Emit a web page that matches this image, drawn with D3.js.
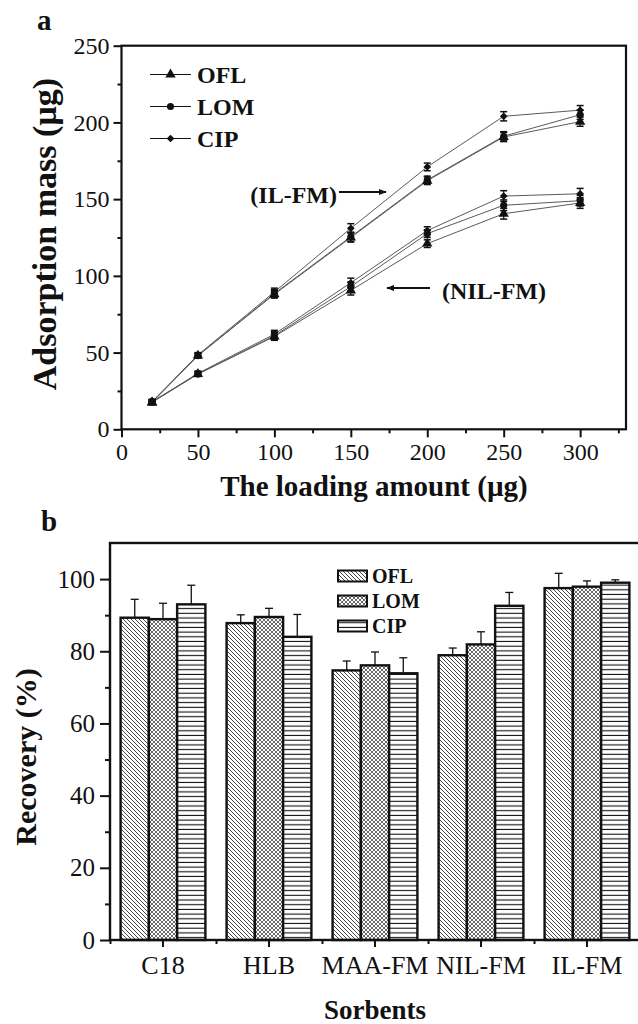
<!DOCTYPE html>
<html>
<head>
<meta charset="utf-8">
<script src="https://cdn.jsdelivr.net/npm/d3@7"></script>
<style>
  body { margin: 0; background: #fff; }
  svg text { font-family: "Liberation Serif", "Times New Roman", serif; fill: #111; }
</style>
</head>
<body>
<svg id="chart"></svg>
<script>
// ---- panel a : adsorption mass vs loading amount ----
const loading = [20, 50, 100, 150, 200, 250, 300]
const drugs = ['OFL', 'LOM', 'CIP']
const ilOFL = [17.5, 48, 88, 125, 162, 190.5, 200.5]
const ilLOM = [18, 48, 88.5, 125.5, 162.5, 191, 205]
const ilCIP = [17.8, 48.5, 89.5, 131, 171, 204, 208]
const nilOFL = [17.5, 36, 60.5, 90.5, 121, 140.5, 147.5]
const nilLOM = [18, 36, 61, 93, 127.5, 146, 149]
const nilCIP = [17.8, 36.5, 62, 95.5, 129.5, 152, 153.5]
const ilErr = [1.5, 1.5, 2.5, 3, 2.5, 3, 3]
const nilErr = [1.2, 1.5, 2.5, 3, 2.5, 3.5, 3.5]
const aTicksX = [0, 50, 100, 150, 200, 250, 300]
const aMinorX = [25, 75, 125, 175, 225, 275, 325]
const aTicksY = [0, 50, 100, 150, 200, 250]
const aMinorY = [25, 75, 125, 175, 225]

// ---- panel b : recovery per sorbent ----
const sorbents = ['C18', 'HLB', 'MAA-FM', 'NIL-FM', 'IL-FM']
const recOFL = [89.3, 87.8, 74.7, 78.9, 97.5]
const recLOM = [88.9, 89.5, 76.1, 81.9, 97.9]
const recCIP = [93.0, 84.0, 73.9, 92.6, 99.0]
const errOFL = [5.1, 2.3, 2.6, 2.0, 4.1]
const errLOM = [4.4, 2.4, 3.7, 3.5, 1.6]
const errCIP = [5.3, 6.2, 4.3, 3.7, 0.8]
const bTicksY = [0, 20, 40, 60, 80, 100]
const bMinorY = [10, 30, 50, 70, 90]

const svg = d3.select('#chart').attr('width', 638).attr('height', 1024)

function styleAxis(sel, fontSize) {
  sel.select('.domain').remove()
  sel.selectAll('.tick line').attr('stroke', '#111').attr('stroke-width', 2)
  sel.selectAll('.tick text').style('font-size', fontSize + 'px').attr('fill', '#111')
}

// patterns for the bars
const defs = svg.append('defs')
const pOFL = defs.append('pattern').attr('id', 'pat-OFL')
  .attr('patternUnits', 'userSpaceOnUse').attr('width', 4).attr('height', 4)
pOFL.append('rect').attr('width', 4).attr('height', 4).attr('fill', '#fff')
pOFL.append('path').attr('d', 'M-1,-1 L5,5 M-1,3 L1,5 M3,-1 L5,1')
  .attr('stroke', '#333').attr('stroke-width', 0.9)

const pLOM = defs.append('pattern').attr('id', 'pat-LOM')
  .attr('patternUnits', 'userSpaceOnUse').attr('width', 4).attr('height', 4)
pLOM.append('rect').attr('width', 4).attr('height', 4).attr('fill', '#fff')
pLOM.append('path').attr('d', 'M-1,-1 L5,5 M-1,3 L1,5 M3,-1 L5,1 M-1,5 L5,-1 M-1,1 L1,-1 M3,5 L5,3')
  .attr('stroke', '#444').attr('stroke-width', 0.8)

const pCIP = defs.append('pattern').attr('id', 'pat-CIP')
  .attr('patternUnits', 'userSpaceOnUse').attr('width', 6).attr('height', 4.7)
pCIP.append('rect').attr('width', 6).attr('height', 4.7).attr('fill', '#fff')
pCIP.append('line').attr('x1', 0).attr('x2', 6).attr('y1', 2.3).attr('y2', 2.3)
  .attr('stroke', '#111').attr('stroke-width', 1.1)

// =================== panel a ===================
const xA = d3.scaleLinear().domain([0, 330]).range([121.5, 626])
const yA = d3.scaleLinear().domain([0, 250]).range([429.3, 45.7])
const gA = svg.append('g')

gA.append('g').attr('transform', `translate(0,${yA(0)})`)
  .call(d3.axisBottom(xA).tickValues(aTicksX).tickSize(8).tickPadding(6).tickSizeOuter(0))
  .call(s => styleAxis(s, 24))
gA.append('g').attr('transform', `translate(0,${yA(0)})`)
  .call(d3.axisBottom(xA).tickValues(aMinorX).tickSize(4).tickFormat('').tickSizeOuter(0))
  .call(s => styleAxis(s, 24))
gA.append('g').attr('transform', `translate(${xA(0)},0)`)
  .call(d3.axisLeft(yA).tickValues(aTicksY).tickSize(8).tickPadding(4).tickSizeOuter(0))
  .call(s => styleAxis(s, 24))
gA.append('g').attr('transform', `translate(${xA(0)},0)`)
  .call(d3.axisLeft(yA).tickValues(aMinorY).tickSize(4).tickFormat('').tickSizeOuter(0))
  .call(s => styleAxis(s, 24))

gA.append('rect')
  .attr('x', xA(0)).attr('y', yA(250))
  .attr('width', xA(330) - xA(0)).attr('height', yA(0) - yA(250))
  .attr('fill', 'none').attr('stroke', '#111').attr('stroke-width', 2.2)

const symbolOf = {
  OFL: d3.symbol().type(d3.symbolTriangle).size(46)(),
  LOM: d3.symbol().type(d3.symbolCircle).size(40)(),
  CIP: d3.symbol().type(d3.symbolSquare).size(30)()
}
const rotOf = { OFL: 0, LOM: 0, CIP: 45 }

const seriesA = [
  { name: 'OFL', values: ilOFL, err: ilErr },
  { name: 'LOM', values: ilLOM, err: ilErr },
  { name: 'CIP', values: ilCIP, err: ilErr },
  { name: 'OFL', values: nilOFL, err: nilErr },
  { name: 'LOM', values: nilLOM, err: nilErr },
  { name: 'CIP', values: nilCIP, err: nilErr }
]

const line = d3.line().x((d, i) => xA(loading[i])).y(d => yA(d))

seriesA.forEach(s => {
  gA.append('path').attr('d', line(s.values))
    .attr('fill', 'none').attr('stroke', '#5a5a5a').attr('stroke-width', 1)
})

seriesA.forEach(s => {
  s.values.forEach((v, i) => {
    const cx = xA(loading[i])
    const top = yA(v + s.err[i]), bot = yA(v - s.err[i])
    gA.append('line').attr('x1', cx).attr('x2', cx).attr('y1', top).attr('y2', bot)
      .attr('stroke', '#111').attr('stroke-width', 1.2)
    ;[top, bot].forEach(yy => {
      gA.append('line').attr('x1', cx - 3.5).attr('x2', cx + 3.5).attr('y1', yy).attr('y2', yy)
        .attr('stroke', '#111').attr('stroke-width', 1.5)
    })
  })
})

seriesA.forEach(s => {
  s.values.forEach((v, i) => {
    gA.append('path').attr('d', symbolOf[s.name])
      .attr('transform', `translate(${xA(loading[i])},${yA(v)}) rotate(${rotOf[s.name]})`)
      .attr('fill', '#111')
  })
})

// legend panel a
drugs.forEach((d, i) => {
  const yy = 74.5 + i * 32
  gA.append('line').attr('x1', 150).attr('x2', 191).attr('y1', yy).attr('y2', yy)
    .attr('stroke', '#111').attr('stroke-width', 1.2)
  gA.append('path').attr('d', symbolOf[d])
    .attr('transform', `translate(170.5,${yy}) rotate(${rotOf[d]})`).attr('fill', '#111')
  gA.append('text').attr('x', 197).attr('y', yy + 8.5)
    .style('font-size', '24px').style('font-weight', 'bold').text(d)
})

// annotations
defs.append('marker').attr('id', 'arrow').attr('viewBox', '0 0 10 10')
  .attr('refX', 9).attr('refY', 5).attr('markerWidth', 4).attr('markerHeight', 4)
  .attr('orient', 'auto-start-reverse')
  .append('path').attr('d', 'M0,1 L10,5 L0,9 z').attr('fill', '#111')

gA.append('text').attr('x', 337).attr('y', 203).attr('text-anchor', 'end')
  .style('font-size', '24px').style('font-weight', 'bold').text('(IL-FM)')
gA.append('line').attr('x1', 339).attr('x2', 386).attr('y1', 192).attr('y2', 192)
  .attr('stroke', '#111').attr('stroke-width', 2).attr('marker-end', 'url(#arrow)')

gA.append('text').attr('x', 442).attr('y', 299)
  .style('font-size', '24px').style('font-weight', 'bold').text('(NIL-FM)')
gA.append('line').attr('x1', 430).attr('x2', 387).attr('y1', 288).attr('y2', 288)
  .attr('stroke', '#111').attr('stroke-width', 2).attr('marker-end', 'url(#arrow)')

// titles
gA.append('text').attr('x', 374).attr('y', 496).attr('text-anchor', 'middle')
  .style('font-size', '29px').style('font-weight', 'bold').text('The loading amount (µg)')
gA.append('text').attr('transform', 'translate(56,234) rotate(-90)').attr('text-anchor', 'middle')
  .style('font-size', '34px').style('font-weight', 'bold').text('Adsorption mass (µg)')
gA.append('text').attr('x', 37).attr('y', 30)
  .style('font-size', '29px').style('font-weight', 'bold').text('a')

// =================== panel b ===================
const xB = d3.scaleBand().domain(sorbents).range([110, 640]).paddingInner(0.2).paddingOuter(0.1)
const xInner = d3.scaleBand().domain(drugs).range([0, xB.bandwidth()])
const yB = d3.scaleLinear().domain([0, 110]).range([940, 543])
const gB = svg.append('g')

const recOf = { OFL: recOFL, LOM: recLOM, CIP: recCIP }
const errOf = { OFL: errOFL, LOM: errLOM, CIP: errCIP }

sorbents.forEach((s, i) => {
  drugs.forEach(d => {
    const x0 = xB(s) + xInner(d)
    const w = xInner.bandwidth()
    const v = recOf[d][i]
    // error bar (upper only)
    gB.append('line').attr('x1', x0 + w / 2).attr('x2', x0 + w / 2)
      .attr('y1', yB(v)).attr('y2', yB(v + errOf[d][i]))
      .attr('stroke', '#111').attr('stroke-width', 1.3)
    gB.append('line').attr('x1', x0 + w / 2 - 4).attr('x2', x0 + w / 2 + 4)
      .attr('y1', yB(v + errOf[d][i])).attr('y2', yB(v + errOf[d][i]))
      .attr('stroke', '#111').attr('stroke-width', 1.3)
    gB.append('rect').attr('x', x0).attr('y', yB(v))
      .attr('width', w).attr('height', yB(0) - yB(v))
      .attr('fill', `url(#pat-${d})`).attr('stroke', '#111').attr('stroke-width', 2.4)
  })
})

// axes panel b
const catMid = d3.scaleLinear().domain([0, 5]).range([110, 640])
gB.append('g').attr('transform', `translate(0,${yB(0)})`)
  .call(d3.axisBottom(xB).tickSize(7).tickPadding(9).tickSizeOuter(0))
  .call(s => styleAxis(s, 26))
gB.append('g').attr('transform', `translate(0,${yB(0)})`)
  .call(d3.axisBottom(catMid).tickValues([0, 1, 2, 3, 4]).tickSize(4).tickFormat('').tickSizeOuter(0))
  .call(s => styleAxis(s, 26))
gB.append('g').attr('transform', `translate(110,0)`)
  .call(d3.axisLeft(yB).tickValues(bTicksY).tickSize(10).tickPadding(5).tickSizeOuter(0))
  .call(s => styleAxis(s, 25))
gB.append('g').attr('transform', `translate(110,0)`)
  .call(d3.axisLeft(yB).tickValues(bMinorY).tickSize(5).tickFormat('').tickSizeOuter(0))
  .call(s => styleAxis(s, 25))

gB.append('rect').attr('x', 110).attr('y', yB(110))
  .attr('width', 640 - 110).attr('height', yB(0) - yB(110))
  .attr('fill', 'none').attr('stroke', '#111').attr('stroke-width', 2.4)

// legend panel b
drugs.forEach((d, i) => {
  const yy = 576 + i * 25
  gB.append('rect').attr('x', 338).attr('y', yy - 5.5).attr('width', 29).attr('height', 11)
    .attr('fill', `url(#pat-${d})`).attr('stroke', '#111').attr('stroke-width', 2)
  gB.append('text').attr('x', 372).attr('y', yy + 7)
    .style('font-size', '20px').style('font-weight', 'bold').text(d)
})

gB.append('text').attr('x', 375).attr('y', 1019).attr('text-anchor', 'middle')
  .style('font-size', '27px').style('font-weight', 'bold').text('Sorbents')
gB.append('text').attr('transform', 'translate(36,757) rotate(-90)').attr('text-anchor', 'middle')
  .style('font-size', '30px').style('font-weight', 'bold').text('Recovery (%)')
gB.append('text').attr('x', 41).attr('y', 531)
  .style('font-size', '29px').style('font-weight', 'bold').text('b')
</script>
</body>
</html>
